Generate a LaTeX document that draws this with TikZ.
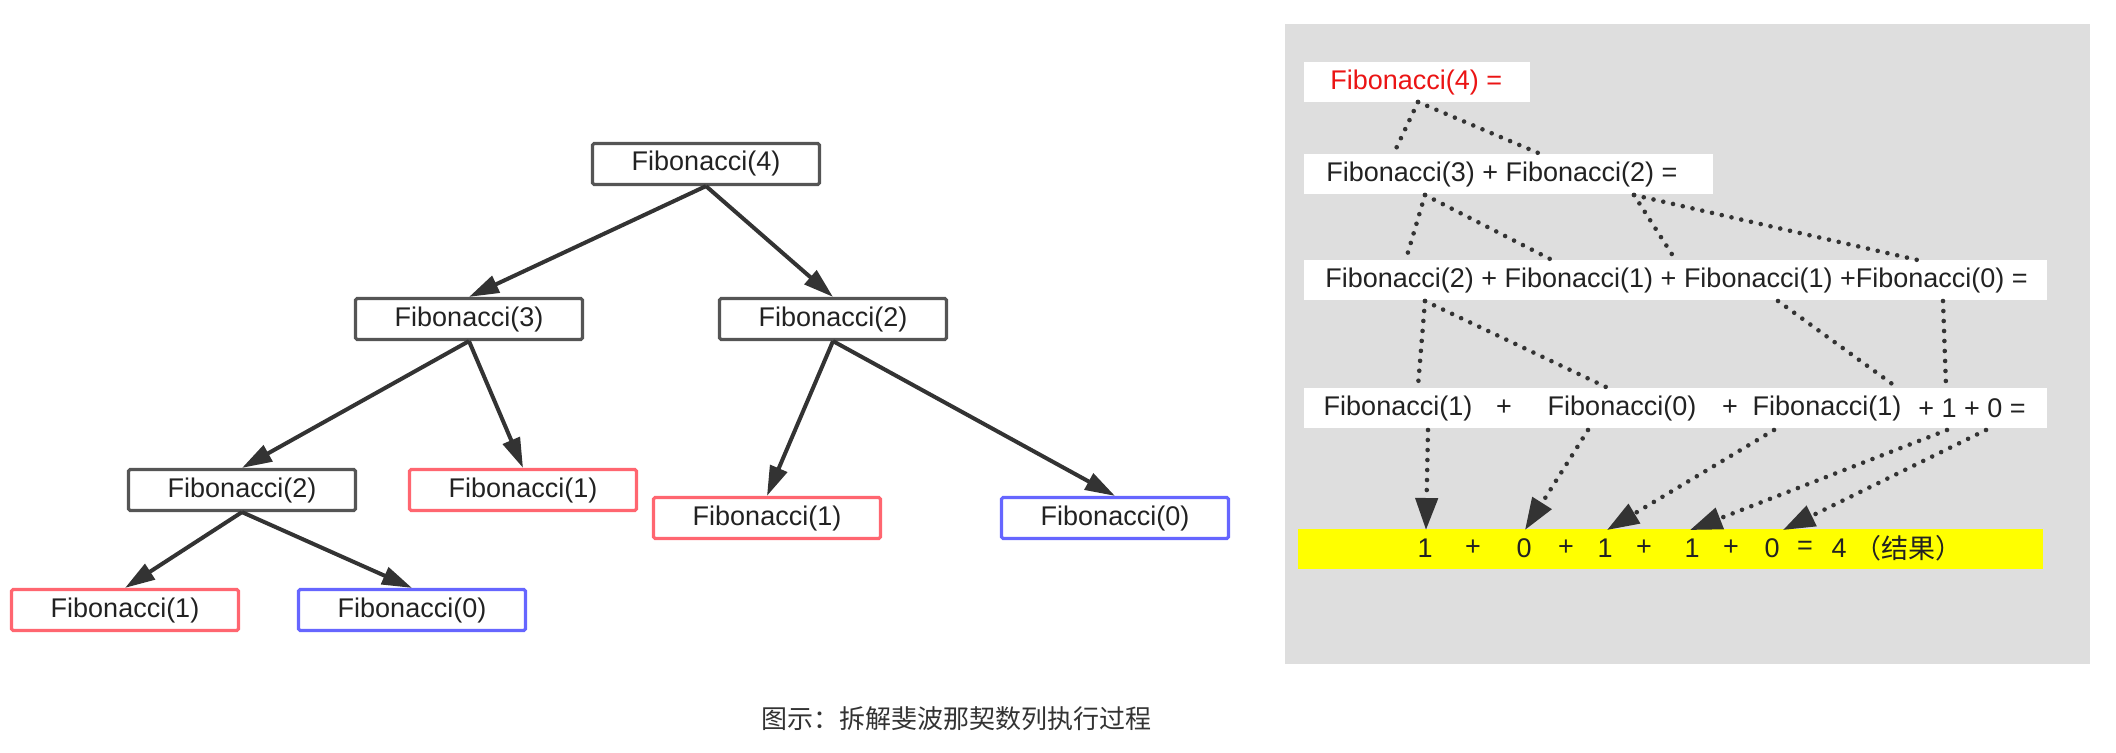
\documentclass[tikz,border=0pt]{standalone}
\usepackage{fontspec}
\setmainfont{Liberation Sans}
\newfontfamily\cjk{Noto Sans CJK SC}
\usetikzlibrary{arrows.meta}

\definecolor{boxgray}{RGB}{85,85,85}
\definecolor{basered}{RGB}{255,102,112}
\definecolor{baseblue}{RGB}{102,102,255}
\definecolor{linegray}{RGB}{51,51,51}
\definecolor{textgray}{RGB}{34,34,34}
\definecolor{panelgray}{RGB}{222,222,222}
\definecolor{fibred}{RGB}{235,20,20}
\definecolor{resyellow}{RGB}{255,255,0}

\tikzset{
  fibbox/.style={draw=boxgray, line width=1.6pt, fill=white, rounded corners=0.8pt,
    minimum width=113.5pt, minimum height=20.5pt, inner sep=0pt, text=textgray},
  onebox/.style={fibbox, draw=basered},
  zerobox/.style={fibbox, draw=baseblue},
  call/.style={draw=linegray, line width=2pt, -{Triangle[length=15pt,width=9pt]}},
  rowbox/.style={fill=white, anchor=north west, inner sep=0pt, minimum height=20pt},
  rowtext/.style={anchor=west, inner sep=0pt, text=textgray},
  tok/.style={inner sep=0pt, text=textgray},
  dotline/.style={draw=linegray, line width=2.3pt, line cap=round, dash pattern=on 0pt off 5pt},
  sumarrow/.style={dotline, -{Triangle[length=16pt,width=11pt]}},
}

\begin{document}
\begin{tikzpicture}[x=0.5pt, y=-0.5pt, font=\fontsize{13.5}{16}\selectfont]
    \useasboundingbox (0,0) rectangle (2116,752);

    % Call tree:
    \node[fibbox] (f4) at (706,164) {Fibonacci(4)};
    \node[fibbox] (f3) at (469,319) {Fibonacci(3)};
    \node[fibbox] (f2r) at (833,319) {Fibonacci(2)};
    \node[fibbox] (f2l) at (242,490) {Fibonacci(2)};
    \node[onebox] (f1a) at (523,490) {Fibonacci(1)};
    \node[onebox] (f1b) at (767,518) {Fibonacci(1)};
    \node[zerobox] (f0a) at (1115,518) {Fibonacci(0)};
    \node[onebox] (f1c) at (125,610) {Fibonacci(1)};
    \node[zerobox] (f0b) at (412,610) {Fibonacci(0)};

    \foreach \a/\b in {f4/f3, f4/f2r, f3/f2l, f3/f1a, f2r/f1b, f2r/f0a, f2l/f1c, f2l/f0b}
        \draw[call] (\a.south) -- (\b.north);

    % Expansion panel:
    \fill[panelgray] (1285,24) rectangle (2090,664);

    \node[rowbox, minimum width=113pt] (row1) at (1304,62) {};
    \node[rowbox, minimum width=204.5pt] (row2) at (1304,154) {};
    \node[rowbox, minimum width=371.5pt] (row3) at (1304,260) {};
    \node[rowbox, minimum width=371.5pt] (row4) at (1304,388) {};
    \node[rowbox, minimum width=372.5pt, fill=resyellow] (res) at (1298,529) {};

    \node[rowtext, text=fibred] (t1) at ([xshift=13pt]row1.west) {Fibonacci(4) =};
    \node[rowtext] (t2) at ([xshift=11pt]row2.west) {Fibonacci(3) + Fibonacci(2) =};
    \node[rowtext] (t3) at ([xshift=10.5pt]row3.west) {Fibonacci(2) + Fibonacci(1) + Fibonacci(1) +Fibonacci(0) =};

    \foreach \x/\t [count=\i] in {1398/Fibonacci(1), 1504/+, 1622/Fibonacci(0), 1730/+, 1827/Fibonacci(1), 1972/{+ 1 + 0 =}}
        \node[tok] (w\i) at (\x,408) {\t};

    \foreach \x/\t [count=\i] in {1425/1, 1473/+, 1524/0, 1566/+, 1605/1, 1644/+, 1692/1, 1731/+, 1772/0, 1805/=, 1839/4, 1908/{\cjk （结果）}}
        \node[tok] (r\i) at (\x,548) {\t};

    % taps on the rows
    \coordinate (u1a) at (1418,102);
    \coordinate (l2a) at (1393,155);
    \coordinate (l2b) at (1543,155);
    \coordinate (u2a) at (1425,195);
    \coordinate (u2b) at (1634,195);
    \coordinate (l3a) at (1406,259);
    \coordinate (l3b) at (1554,261);
    \coordinate (l3c) at (1675,259);
    \coordinate (l3d) at (1922,261);
    \coordinate (u3a) at (1425,301);
    \coordinate (u3b) at (1778,301);
    \coordinate (u3c) at (1943,301);
    \coordinate (l4a) at (1418,386);
    \coordinate (l4b) at (1606,387);
    \coordinate (l4c) at (1895,386);
    \coordinate (l4d) at (1946,386);
    \coordinate (u4a) at (1428,430);
    \coordinate (u4b) at (1588,430);
    \coordinate (u4c) at (1774,430);
    \coordinate (u4d) at (1947,430);
    \coordinate (u4e) at (1986,430);
    \coordinate (l5a) at (1426,530);
    \coordinate (l5b) at (1525,530);
    \coordinate (l5c) at (1607,530);
    \coordinate (l5d) at (1690,530);
    \coordinate (l5e) at (1783,530);

    \foreach \a/\b in {u1a/l2a, u1a/l2b, u2a/l3a, u2a/l3b, u2b/l3c, u2b/l3d, u3a/l4a, u3a/l4b, u3b/l4c, u3c/l4d}
        \draw[dotline] (\a) -- (\b);
    \foreach \a/\b in {u4a/l5a, u4b/l5b, u4c/l5c, u4d/l5d, u4e/l5e}
        \draw[sumarrow] (\a) -- (\b);

    % Caption:
    \node[text=linegray, font=\cjk\fontsize{13}{15}\selectfont] (cap) at (956,719) {图示：拆解斐波那契数列执行过程};
\end{tikzpicture}
\end{document}
